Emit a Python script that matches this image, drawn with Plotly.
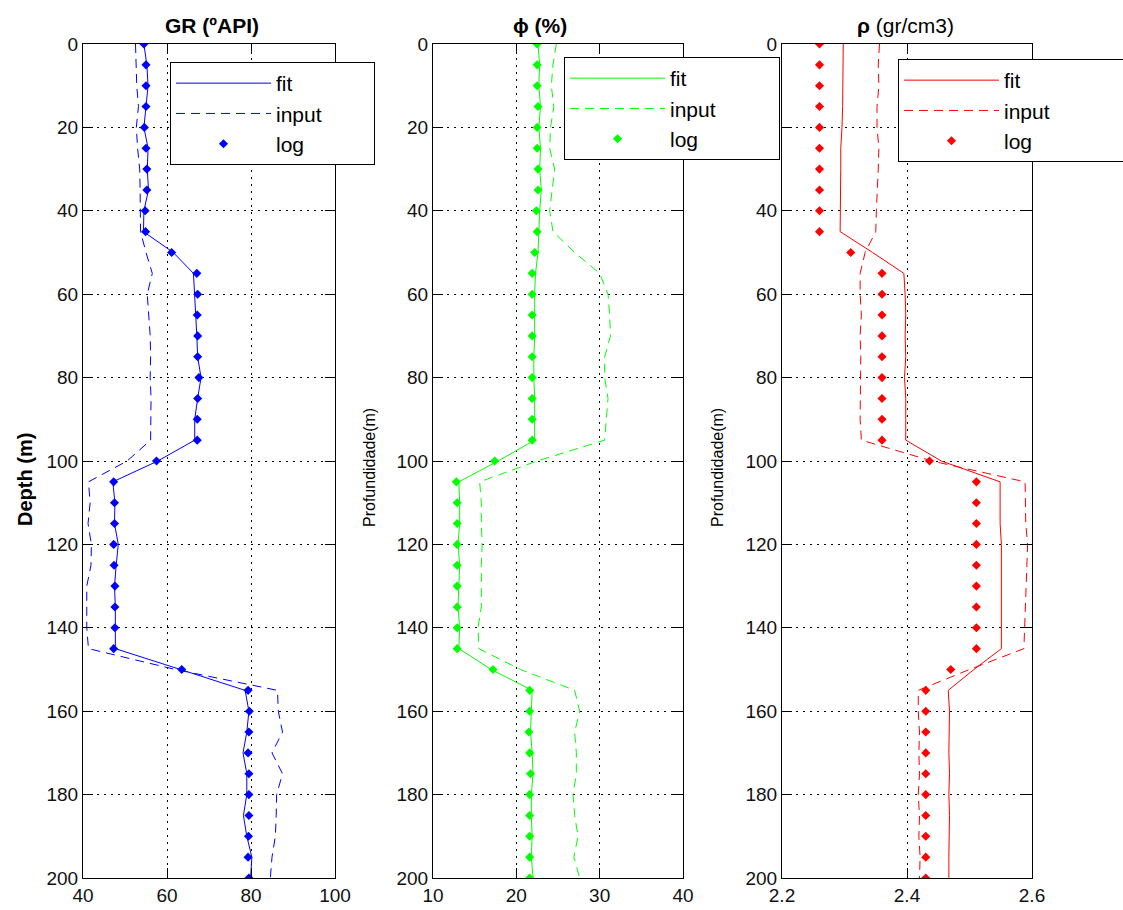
import plotly.graph_objects as go

W, H = 1123, 910

depth = list(range(0, 201, 5))

gr_log = [54.5, 55.0, 55.0, 55.0, 54.6, 55.0, 55.2, 55.2, 54.8, 54.9,
          61.1, 67.1, 67.3, 67.2, 67.3, 67.3, 67.6, 67.3, 67.2, 67.2,
          57.5, 47.3, 47.5, 47.5, 47.3, 47.4, 47.6, 47.6, 47.6, 47.3,
          63.5, 79.3, 79.6, 79.5, 79.3, 79.5, 79.5, 79.5, 79.4, 79.3, 79.5]
gr_fit = [54.5, 55.2, 55.5, 55.0, 54.5, 55.5, 55.3, 55.6, 54.5, 54.4,
          61.5, 66.3, 66.6, 66.8, 67.1, 67.3, 68.1, 67.3, 66.6, 66.6,
          57.8, 47.1, 47.6, 47.5, 48.4, 47.9, 47.5, 47.7, 47.7, 47.7,
          63.2, 78.6, 79.5, 79.0, 78.1, 79.0, 79.0, 78.2, 79.0, 80.2, 79.9]
gr_input = [52.5, 52.6, 52.8, 53.2, 52.7, 53.0, 53.5, 53.6, 53.6, 53.7,
            55.0, 56.5, 55.3, 55.6, 56.0, 56.1, 56.0, 56.2, 56.2, 56.1,
            50.5, 41.3, 41.7, 41.2, 42.0, 41.9, 40.9, 40.9, 40.9, 41.3,
            62.0, 86.3, 86.5, 87.5, 85.0, 87.5, 86.1, 86.0, 85.8, 85.0, 84.6]

phi_log = [22.5, 22.5, 22.5, 22.6, 22.5, 22.5, 22.6, 22.6, 22.4, 22.5,
           22.2, 21.9, 21.9, 21.9, 21.9, 21.9, 21.9, 21.9, 21.9, 21.9,
           17.4, 12.8, 12.9, 12.9, 12.9, 12.9, 12.9, 12.9, 12.9, 12.9,
           17.2, 21.6, 21.6, 21.5, 21.6, 21.7, 21.6, 21.6, 21.6, 21.6, 21.6]
phi_fit = [22.6, 22.8, 22.7, 22.9, 22.7, 22.9, 22.8, 23.0, 22.8, 22.7,
           22.6, 22.3, 22.2, 22.2, 22.2, 22.1, 22.1, 22.2, 22.2, 22.2,
           17.8, 13.1, 13.2, 13.2, 13.0, 13.2, 13.1, 13.0, 13.2, 13.1,
           17.0, 21.9, 21.8, 21.7, 21.9, 22.0, 21.8, 21.8, 21.9, 21.8, 22.0]
phi_input = [24.8, 24.4, 24.2, 24.5, 24.1, 24.0, 24.6, 24.3, 24.0, 24.4,
             27.0, 30.0, 31.0, 31.2, 31.3, 30.6, 30.6, 31.0, 30.8, 30.6,
             22.5, 15.6, 15.8, 15.8, 15.9, 15.8, 15.8, 15.8, 15.4, 15.5,
             20.5, 27.0, 27.6, 27.0, 27.2, 27.2, 26.8, 27.0, 27.4, 26.9, 27.6]

rho_log = [2.26, 2.26, 2.26, 2.26, 2.26, 2.26, 2.26, 2.26, 2.26, 2.26,
           2.31, 2.36, 2.36, 2.36, 2.36, 2.36, 2.36, 2.36, 2.36, 2.36,
           2.436, 2.511, 2.511, 2.511, 2.511, 2.511, 2.511, 2.511, 2.511, 2.511,
           2.47, 2.43, 2.43, 2.43, 2.43, 2.43, 2.43, 2.43, 2.43, 2.43, 2.43]
rho_fit = [2.298, 2.298, 2.298, 2.297, 2.296, 2.294, 2.294, 2.294, 2.293, 2.293,
           2.345, 2.395, 2.397, 2.398, 2.397, 2.398, 2.396, 2.398, 2.398, 2.398,
           2.455, 2.549, 2.549, 2.549, 2.551, 2.551, 2.551, 2.551, 2.551, 2.551,
           2.507, 2.466, 2.468, 2.467, 2.467, 2.468, 2.467, 2.468, 2.467, 2.467, 2.467]
rho_input = [2.356, 2.354, 2.355, 2.352, 2.352, 2.355, 2.354, 2.352, 2.351, 2.350,
             2.333, 2.325, 2.325, 2.327, 2.325, 2.326, 2.326, 2.325, 2.325, 2.327,
             2.44, 2.589, 2.589, 2.590, 2.593, 2.592, 2.590, 2.589, 2.589, 2.587,
             2.50, 2.418, 2.418, 2.420, 2.419, 2.420, 2.418, 2.420, 2.419, 2.421, 2.420]

panels = [
    dict(fit=gr_fit, inp=gr_input, log=gr_log, color="#0000FF", xr=[40, 100],
         ticks=[40, 60, 80, 100], px=(83, 335), legend="legend", pad=8),
    dict(fit=phi_fit, inp=phi_input, log=phi_log, color="#00FF00", xr=[10, 40],
         ticks=[10, 20, 30, 40], px=(433, 683), legend="legend2", pad=10),
    dict(fit=rho_fit, inp=rho_input, log=rho_log, color="#FF0000", xr=[2.2, 2.6],
         ticks=[2.2, 2.4, 2.6], px=(782, 1032), legend="legend3", pad=12),
]
tick_labels = [["40", "60", "80", "100"], ["10", "20", "30", "40"], ["2.2", "2.4", "2.6"]]
depth_ticks = list(range(0, 201, 20))
legend_names = ["fit", "input", "log"]

FONT = "Liberation Sans, Arial, sans-serif"
top_px, bot_px = 44, 878

fig = go.Figure()
layout = dict(
    width=W, height=H, margin=dict(l=0, r=0, t=0, b=0, autoexpand=False),
    paper_bgcolor="white", plot_bgcolor="white", font=dict(family=FONT, color="black"),
)

for i, p in enumerate(panels):
    n = "" if i == 0 else str(i + 1)
    xa, ya = "x" + n, "y" + n
    pad = "\u00a0" * p["pad"]
    fig.add_trace(go.Scatter(x=p["fit"], y=depth, mode="lines", name=legend_names[0] + pad,
                             line=dict(color=p["color"], width=1),
                             xaxis=xa, yaxis=ya, legend=p["legend"]))
    fig.add_trace(go.Scatter(x=p["inp"], y=depth, mode="lines", name=legend_names[1] + pad,
                             line=dict(color=p["color"], width=1, dash="9px,6px"),
                             xaxis=xa, yaxis=ya, legend=p["legend"]))
    fig.add_trace(go.Scatter(x=p["log"], y=depth, mode="markers", name=legend_names[2] + pad,
                             marker=dict(color=p["color"], symbol="diamond", size=7),
                             xaxis=xa, yaxis=ya, legend=p["legend"]))
    axis_common = dict(showline=True, linecolor="black", linewidth=1, mirror="ticks",
                       ticks="inside", ticklen=10, tickcolor="black", automargin=False,
                       showgrid=True, gridcolor="black", gridwidth=1, griddash="2px,5px",
                       zeroline=False, tickfont=dict(family=FONT, size=19, color="#111"))
    layout["xaxis" + n] = dict(axis_common, range=p["xr"], tickvals=p["ticks"],
                               ticktext=tick_labels[i], anchor=ya,
                               domain=[p["px"][0] / W, p["px"][1] / W])
    layout["yaxis" + n] = dict(axis_common, range=[200, 0], tickvals=depth_ticks,
                               anchor=xa, domain=[1 - bot_px / H, 1 - top_px / H])

leg_common = dict(bgcolor="white", bordercolor="black", borderwidth=1,
                  font=dict(family=FONT, size=21, color="black"),
                  xanchor="left", yanchor="top", itemwidth=95, tracegroupgap=0)
layout["legend"] = dict(leg_common, x=170 / W, y=1 - 62 / H)
layout["legend2"] = dict(leg_common, x=564 / W, y=1 - 57 / H)
layout["legend3"] = dict(leg_common, x=898 / W, y=1 - 59 / H)

ann = []
titles = [("<b>GR (ºAPI)</b>", 212), ("<b>ϕ (%)</b>", 540), ("<b>ρ</b> (gr/cm3)", 905)]
for t, xc in titles:
    ann.append(dict(text=t, x=xc / W, y=1 - 25 / H, xref="paper", yref="paper",
                    showarrow=False, xanchor="center", yanchor="middle",
                    font=dict(family=FONT, size=21, color="black")))
ann.append(dict(text="<b>Depth (m)</b>", x=25 / W, y=1 - 480 / H, xref="paper", yref="paper",
                showarrow=False, textangle=-90, xanchor="center", yanchor="middle",
                font=dict(family=FONT, size=20, color="black")))
for xc in (370, 718):
    ann.append(dict(text="Profundidade(m)", x=xc / W, y=1 - 468 / H, xref="paper", yref="paper",
                    showarrow=False, textangle=-90, xanchor="center", yanchor="middle",
                    font=dict(family=FONT, size=16, color="black")))
layout["annotations"] = ann

fig.update_layout(**layout)
fig.write_html("out.html")
